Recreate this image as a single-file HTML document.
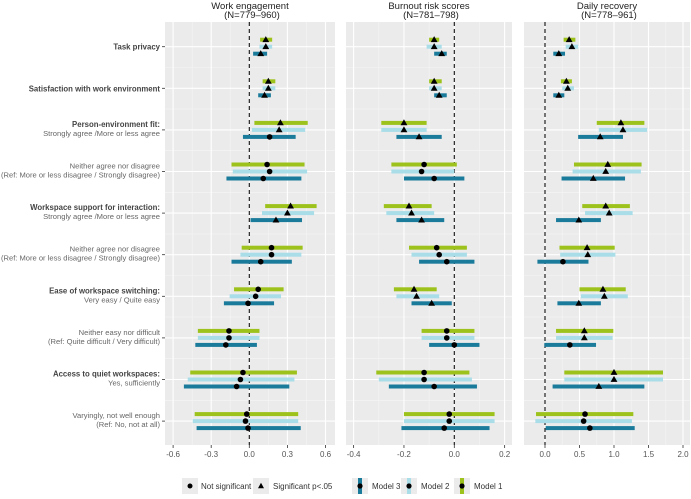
<!DOCTYPE html>
<html><head><meta charset="utf-8"><style>
body{margin:0;background:#fff;width:691px;height:494px;overflow:hidden}
svg text{font-family:"Liberation Sans",sans-serif}
</style></head><body>
<svg id="chart" width="691" height="494" xmlns="http://www.w3.org/2000/svg"></svg>
<script>
const rowLabels = [
 ["Task privacy",""],["Satisfaction with work environment",""],
 ["Person-environment  fit:","Strongly agree /More or less agree"],
 ["","Neither agree nor disagree","(Ref: More or less disagree / Strongly disagree)"],
 ["Workspace support for interaction:","Strongly agree /More or less agree"],
 ["","Neither agree nor disagree","(Ref: More or less disagree / Strongly disagree)"],
 ["Ease of workspace switching:","Very easy / Quite easy"],
 ["","Neither easy nor difficult","(Ref: Quite difficult / Very difficult)"],
 ["Access to quiet workspaces:","Yes, sufficiently"],
 ["","Varyingly, not well enough","(Ref: No, not at all)"]
];
const panelTitles = [["Work engagement","(N=779\u2013960)"],["Burnout risk scores","(N=781\u2013798)"],["Daily recovery","(N=778\u2013961)"]];
const tickLabels = [["-0.6","-0.3","0.0","0.3","0.6"],["-0.4","-0.2","0.0","0.2"],["0.0","0.5","1.0","1.5","2.0"]];
// each row: [est, lo, hi, sig] for Model1, Model2, Model3
const we_m1 = [[0.13,0.085,0.18,1],[0.15,0.105,0.205,1],[0.245,0.04,0.46,1],[0.14,-0.14,0.435,0],[0.325,0.125,0.53,1],[0.175,-0.06,0.42,0],[0.07,-0.12,0.27,0],[-0.16,-0.405,0.08,0],[-0.05,-0.465,0.375,0],[-0.02,-0.43,0.385,0]];
const we_m2 = [[0.13,0.08,0.18,1],[0.15,0.105,0.205,1],[0.235,0.02,0.44,1],[0.16,-0.13,0.455,0],[0.30,0.10,0.51,1],[0.175,-0.07,0.41,0],[0.05,-0.155,0.25,0],[-0.16,-0.405,0.08,0],[-0.07,-0.485,0.355,0],[-0.03,-0.445,0.385,0]];
const we_m3 = [[0.09,0.03,0.14,1],[0.12,0.07,0.17,1],[0.16,-0.05,0.365,0],[0.11,-0.18,0.41,0],[0.21,0.01,0.415,1],[0.09,-0.14,0.335,0],[-0.01,-0.2,0.195,0],[-0.185,-0.425,0.06,0],[-0.1,-0.515,0.315,0],[-0.01,-0.415,0.405,0]];
const bo_m1 = [[-0.08,-0.10,-0.06,1],[-0.08,-0.10,-0.05,1],[-0.20,-0.29,-0.11,1],[-0.12,-0.25,0.01,0],[-0.18,-0.28,-0.09,1],[-0.07,-0.18,0.05,0],[-0.16,-0.24,-0.07,1],[-0.03,-0.13,0.08,0],[-0.12,-0.31,0.06,0],[-0.02,-0.20,0.16,0]];
const bo_m2 = [[-0.08,-0.11,-0.05,1],[-0.08,-0.10,-0.05,1],[-0.20,-0.29,-0.11,1],[-0.13,-0.25,0.0,0],[-0.17,-0.27,-0.08,1],[-0.06,-0.17,0.05,0],[-0.15,-0.23,-0.06,1],[-0.03,-0.13,0.08,0],[-0.12,-0.30,0.07,0],[-0.02,-0.20,0.16,0]];
const bo_m3 = [[-0.05,-0.08,-0.03,1],[-0.06,-0.08,-0.03,1],[-0.14,-0.23,-0.05,1],[-0.08,-0.20,0.04,0],[-0.13,-0.23,-0.04,1],[-0.03,-0.14,0.08,0],[-0.09,-0.17,-0.01,1],[0.0,-0.10,0.10,0],[-0.08,-0.26,0.09,0],[-0.04,-0.21,0.14,0]];
const dr_m1 = [[0.35,0.27,0.44,1],[0.31,0.23,0.39,1],[1.10,0.75,1.44,1],[0.91,0.42,1.40,1],[0.88,0.54,1.23,1],[0.61,0.21,1.01,1],[0.84,0.50,1.17,1],[0.57,0.16,0.99,1],[1.0,0.28,1.71,1],[0.58,-0.13,1.28,0]];
const dr_m2 = [[0.39,0.30,0.48,1],[0.33,0.25,0.42,1],[1.13,0.78,1.48,1],[0.88,0.40,1.39,1],[0.93,0.58,1.27,1],[0.62,0.22,1.02,1],[0.86,0.52,1.20,1],[0.57,0.16,0.98,1],[1.0,0.28,1.71,1],[0.56,-0.14,1.26,0]];
const dr_m3 = [[0.20,0.12,0.29,1],[0.20,0.12,0.28,1],[0.80,0.48,1.13,1],[0.70,0.24,1.16,1],[0.49,0.16,0.81,1],[0.26,-0.11,0.63,0],[0.49,0.18,0.81,1],[0.36,-0.01,0.74,0],[0.78,0.11,1.44,1],[0.65,0.01,1.30,0]];
const tickValues = [[-0.6,-0.3,0,0.3,0.6],[-0.4,-0.2,0,0.2],[0,0.5,1,1.5,2]];
const minorValues = [[-0.45,-0.15,0.15,0.45],[-0.3,-0.1,0.1],[0.25,0.75,1.25,1.75]];

const svg = document.getElementById('chart');
const NS = 'http://www.w3.org/2000/svg';
function mk(tag, attrs, parent){const e=document.createElementNS(NS,tag);for(const k in attrs)e.setAttribute(k,attrs[k]);(parent||svg).appendChild(e);return e;}
const colors = ['#9cc21b','#a9dde8','#1b7b9b'];
const panels = [
 {x0:165,x1:335,zero:249.3,ppu:127,data:[we_m1,we_m2,we_m3],name:'work-engagement'},
 {x0:346,x1:512,zero:454.3,ppu:251.7,data:[bo_m1,bo_m2,bo_m3],name:'burnout-risk'},
 {x0:524,x1:690,zero:545,ppu:69,data:[dr_m1,dr_m2,dr_m3],name:'daily-recovery'}
];
const yTop=22, yBot=445, rowY0=46.7, rowStep=41.6, off=[-7,0,7];
const rowY = i => rowY0 + i*rowStep;

panels.forEach((p,pi)=>{
 const X = v => p.zero + v*p.ppu;
 const g = mk('g',{});
 
 
 mk('rect',{x:p.x0,y:yTop,width:p.x1-p.x0,height:yBot-yTop,fill:'#ebebeb'},g);
 minorValues[pi].forEach(v=>mk('line',{x1:X(v),x2:X(v),y1:yTop,y2:yBot,stroke:'#f5f5f5','stroke-width':0.6},g));
 for(let i=0;i<9;i++){const y=(rowY(i)+rowY(i+1))/2;mk('line',{x1:p.x0,x2:p.x1,y1:y,y2:y,stroke:'#f5f5f5','stroke-width':0.6},g);}
 tickValues[pi].forEach((v,k)=>{
  mk('line',{x1:X(v),x2:X(v),y1:yTop,y2:yBot,stroke:'#fff','stroke-width':1.1},g);
  mk('line',{x1:X(v),x2:X(v),y1:yBot,y2:yBot+3,stroke:'#333','stroke-width':0.8},g);
  const t=mk('text',{x:X(v),y:yBot+12,'font-size':8,'text-anchor':'middle',fill:'#555'},g);
  t.textContent=tickLabels[pi][k];
  
  
 });
 rowLabels.forEach((r,i)=>mk('line',{x1:p.x0,x2:p.x1,y1:rowY(i),y2:rowY(i),stroke:'#fff','stroke-width':1.1},g));
 mk('line',{x1:X(0),x2:X(0),y1:yTop,y2:yBot,stroke:'#111','stroke-width':1.1,'stroke-dasharray':'4,3'},g);
 p.data.forEach((series,m)=>{
  series.forEach((d,i)=>{
   const y=rowY(i)+off[m];
   const b=mk('rect',{x:X(d[1]),y:y-2,width:X(d[2])-X(d[1]),height:4,fill:colors[m]},g);
   
   
   const cx=X(d[0]);
   let pt;
   if(d[3]) pt=mk('polygon',{points:`${cx},${y-3.6} ${cx-3.4},${y+2.4} ${cx+3.4},${y+2.4}`,fill:'#000'},g);
   else pt=mk('circle',{cx:cx,cy:y,r:2.8,fill:'#000'},g);
   
   
  });
 });
 const cx=(p.x0+p.x1)/2;
 const t1=mk('text',{x:cx,y:9,'font-size':9.5,'text-anchor':'middle',fill:'#222'});
 t1.textContent=panelTitles[pi][0];
 
 
 const t2=mk('text',{x:cx+2,y:18,'font-size':9.5,'text-anchor':'middle',fill:'#222'});
 t2.textContent=panelTitles[pi][1];
 
 
});
rowLabels.forEach((r,i)=>{
 const y=rowY(i);
 mk('line',{x1:162,x2:165,y1:y,y2:y,stroke:'#333','stroke-width':0.8});
 const lines=[];
 if(r[0]&&r[1]){lines.push([r[0],1,-3]);lines.push([r[1],0,6]);}
 else if(r[0]){lines.push([r[0],1,3]);}
 else {lines.push([r[1],0,-3]);lines.push([r[2],0,6]);}
 lines.forEach(l=>{
  const t=mk('text',{x:160,y:y+l[2],'font-size':l[1]?7.8:7.6,'text-anchor':'end',fill:l[1]?'#444':'#666','font-weight':l[1]?'bold':'normal'});
  t.textContent=l[0];
  
  
  if(t.getComputedTextLength()>159){t.setAttribute('textLength',159);t.setAttribute('lengthAdjust','spacingAndGlyphs');}
 });
});
// legend
const ly=486;
function key(x,name){const r=mk('rect',{x:x-8,y:ly-8,width:16,height:16,fill:'#ebebeb'});return r;}
function ltxt(x,s){const t=mk('text',{x:x,y:ly+3,'font-size':8,fill:'#333'});t.textContent=s;}
key(190,'legend-not-significant');mk('circle',{cx:190,cy:ly,r:2.5,fill:'#000'});ltxt(201,'Not significant');
key(261,'legend-significant');mk('polygon',{points:`261,${ly-3.2} 258,${ly+2.2} 264,${ly+2.2}`,fill:'#000'});ltxt(273,'Significant p<.05');
[[360,'Model 3',colors[2]],[409,'Model 2',colors[1]],[462,'Model 1',colors[0]]].forEach(k=>{
 key(k[0],'legend-'+k[1].toLowerCase().replace(' ','-'));
 mk('rect',{x:k[0]-2,y:ly-8,width:4,height:16,fill:k[2]});
 mk('circle',{cx:k[0],cy:ly,r:2.6,fill:'#000'});
 ltxt(k[0]+12,k[1]);
});
</script>
</body></html>
